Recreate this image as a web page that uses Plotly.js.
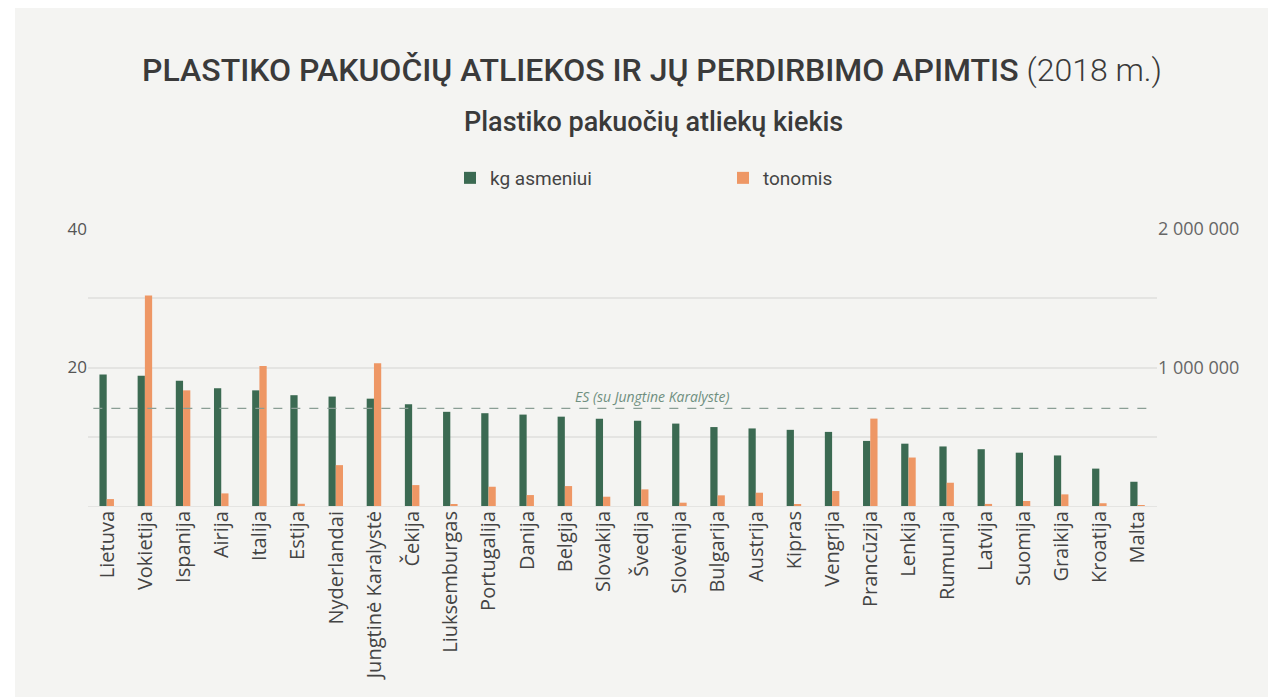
<!DOCTYPE html>
<html><head><meta charset="utf-8">
<script src="https://cdn.plot.ly/plotly-3.0.1.min.js"></script>
<style>html,body{margin:0;padding:0;background:#ffffff;}#chart{position:absolute;left:15px;top:8px;width:1253px;height:689px;}</style>
</head><body><div id="chart"></div>
<script>
const countries = ["Lietuva","Vokietija","Ispanija","Airija","Italija","Estija","Nyderlandai","Jungtinė Karalystė","Čekija","Liuksemburgas","Portugalija","Danija","Belgija","Slovakija","Švedija","Slovėnija","Bulgarija","Austrija","Kipras","Vengrija","Prancūzija","Lenkija","Rumunija","Latvija","Suomija","Graikija","Kroatija","Malta"];
const kgPerPerson = [19.0,18.8,18.1,17.0,16.7,16.0,15.8,15.5,14.7,13.6,13.4,13.2,12.9,12.6,12.3,11.9,11.4,11.2,11.0,10.7,9.4,9.0,8.6,8.2,7.7,7.3,5.4,3.5];
const tonnes = [50000,1520000,835000,91000,1010000,16000,295000,1030000,151000,8000,139000,79000,144000,67000,120000,24000,77000,96000,9000,108000,631000,350000,168000,15000,36000,84000,20000,1500];
const euAverage = 14.1;
const leftTicks = [10,20,30,40];
const leftTickText = ["","20","","40"];
const rightTicks = [1000000,2000000];
const rightTickText = ["1 000 000","2 000 000"];

const green = "#3b6a52", orange = "#ee9765";
const traces = [
  {type:"bar", name:"kg asmeniui", x:countries, y:kgPerPerson, yaxis:"y", marker:{color:green}, width:0.19, offset:-0.2, hoverinfo:"x+y"},
  {type:"bar", name:"tonomis", x:countries, y:tonnes, yaxis:"y2", marker:{color:orange}, width:0.19, offset:-0.01, hoverinfo:"x+y"}
];
const layout = {
  width:1253, height:689,
  paper_bgcolor:"#f4f4f2", plot_bgcolor:"#f4f4f2",
  margin:{l:73, r:111, t:221, b:191},
  font:{family:"Open Sans", color:"#555"},
  title:{text:"<span style='font-weight:500'>PLASTIKO PAKUOČIŲ ATLIEKOS IR JŲ PERDIRBIMO APIMTIS</span> <span style='font-weight:300'>(2018 m.)</span>", font:{family:"Roboto", size:32, color:"#3a3a3a"}, x:(652-15)/1253, xanchor:"center", y:1-62/689, yanchor:"middle", yref:"container"},
  showlegend:true,
  legend:{orientation:"h", xref:"container", yref:"container", x:(450-15)/1253, y:1-(170)/689, xanchor:"left", yanchor:"middle", entrywidth:228, entrywidthmode:"pixels", font:{family:"Roboto", size:19, color:"#444"}, bgcolor:"rgba(0,0,0,0)", traceorder:"normal"},
  barmode:"group",
  xaxis:{type:"category", tickangle:-90, tickfont:{family:"Open Sans", size:20, color:"#444"}, showgrid:false, zeroline:false, showline:false, ticks:"", range:[-0.5,27.5]},
  yaxis:{range:[0,40], tickvals:leftTicks, ticktext:leftTickText, showgrid:true, gridcolor:"#e4e4e2", gridwidth:1.5, zeroline:true, zerolinecolor:"#e4e4e2", showline:false, tickfont:{family:"Open Sans", size:17, color:"#555"}, ticks:""},
  yaxis2:{range:[0,2000000], overlaying:"y", side:"right", tickvals:rightTicks, ticktext:rightTickText, showgrid:false, zeroline:false, showline:false, tickfont:{family:"Open Sans", size:18, color:"#666"}, ticks:""},
  shapes:[{type:"line", xref:"paper", yref:"y", x0:0.005, x1:0.995, y0:euAverage, y1:euAverage, line:{color:"#8a9e95", width:1.3, dash:"dash"}}],
  annotations:[
    {text:"Plastiko pakuočių atliekų kiekis", xref:"paper", yref:"paper", x:(638-73)/1069, y:(498-114)/277, xanchor:"center", yanchor:"middle", showarrow:false, font:{family:"Roboto", size:27, color:"#3a3a3a", weight:500}},
    {text:"<i>ES (su Jungtine Karalyste)</i>", xref:"paper", yref:"y", x:(652-88)/1069, y:euAverage, xanchor:"center", yanchor:"bottom", showarrow:false, font:{family:"Open Sans", size:14, color:"#6f8f80"}}
  ]
};
Plotly.newPlot("chart", traces, layout, {displayModeBar:false, responsive:false});
</script></body></html>
